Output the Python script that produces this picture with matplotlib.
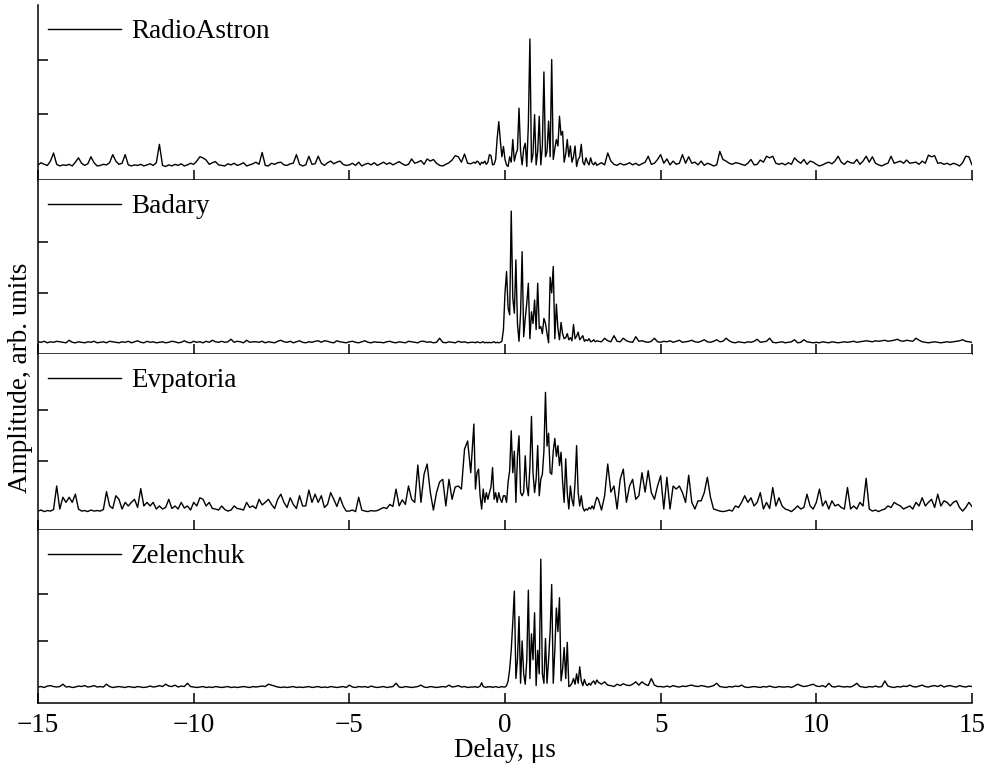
import numpy as np
import matplotlib
matplotlib.use("Agg")
import matplotlib.pyplot as plt

# Amplitudes in hundredths of one y-tick interval.
# Each trace is split in three pieces: -15..-1.1 us (0.1 us step),
# -1..2.95 us (0.05 us step, the burst) and 3..15 us (0.1 us step).

stations = ["RadioAstron", "Badary", "Evpatoria", "Zelenchuk"]

radioastron_left = [
    5, 9, 6, 4, 12, 27, 6, 3, 5, 4,
    6, 3, 10, 18, 8, 4, 7, 20, 9, 3,
    4, 6, 5, 9, 24, 12, 6, 8, 24, 5,
    3, 5, 4, 6, 3, 5, 7, 4, 9, 43,
    4, 2, 5, 3, 6, 4, 7, 3, 5, 8,
    6, 12, 20, 18, 14, 6, 9, 11, 5, 4,
    3, 7, 5, 8, 4, 6, 9, 3, 5, 7,
    10, 6, 28, 4, 3, 8, 6, 9, 10, 5,
    4, 7, 8, 24, 6, 3, 5, 21, 6, 7,
    21, 8, 4, 9, 12, 7, 10, 12, 6, 4,
    5, 8, 4, 10, 3, 6, 8, 5, 9, 4,
    7, 10, 6, 9, 5, 8, 11, 7, 4, 6,
    16, 8, 10, 13, 6, 16, 12, 15, 8, 4,
    3, 6, 9, 14, 22, 20, 10, 25, 8, 7,
]
radioastron_burst = [
    10, 8, 12, 10, 5, 10, 8, 12, 6, 10,
    24, 22, 5, 6, 15, 55, 85, 50, 20, 39,
    15, 5, 2, 20, 10, 52, 12, 25, 33, 110,
    30, 5, 35, 45, 2, 80, 238, 10, 25, 98,
    5, 30, 95, 5, 40, 177, 20, 30, 86, 20,
    200, 15, 35, 52, 40, 95, 60, 67, 10, 25,
    52, 20, 40, 10, 20, 40, 2, 15, 20, 43,
    10, 5, 18, 10, 5, 18, 8, 5, 10, 4,
]
radioastron_right = [
    6, 9, 5, 27, 12, 6, 4, 8, 5, 6,
    9, 5, 8, 4, 7, 10, 21, 6, 8, 15,
    24, 8, 16, 5, 12, 6, 8, 24, 8, 20,
    8, 10, 5, 12, 4, 8, 6, 3, 5, 30,
    15, 12, 8, 6, 9, 8, 6, 4, 8, 15,
    5, 6, 14, 10, 21, 18, 21, 8, 6, 8,
    5, 9, 6, 18, 12, 8, 15, 6, 12, 10,
    6, 3, 5, 8, 10, 7, 12, 21, 10, 6,
    12, 9, 8, 15, 6, 12, 21, 10, 20, 8,
    5, 3, 6, 8, 21, 8, 10, 12, 8, 14,
    8, 9, 10, 6, 12, 8, 23, 20, 22, 8,
    9, 6, 8, 5, 8, 6, 3, 9, 21, 20,
    5,
]

badary_left = [
    4, 3, 5, 2, 4, 3, 5, 4, 3, 2,
    7, 3, 2, 4, 3, 2, 4, 3, 5, 2,
    3, 4, 2, 5, 4, 3, 2, 4, 3, 5,
    2, 4, 6, 3, 2, 5, 3, 4, 2, 3,
    4, 2, 3, 5, 4, 2, 3, 6, 3, 2,
    5, 3, 4, 2, 5, 3, 7, 4, 3, 5,
    3, 4, 9, 3, 5, 4, 2, 7, 3, 4,
    4, 3, 5, 2, 4, 3, 2, 5, 7, 4,
    3, 5, 2, 4, 6, 3, 2, 4, 3, 5,
    6, 3, 6, 5, 3, 2, 6, 4, 3, 2,
    4, 5, 3, 2, 4, 6, 3, 2, 4, 3,
    3, 2, 4, 5, 3, 2, 4, 3, 2, 5,
    4, 3, 2, 5, 5, 3, 4, 2, 3, 11,
    3, 2, 4, 3, 2, 5, 3, 4, 2, 3,
]
badary_burst = [
    3, 2, 4, 3, 2, 3, 4, 2, 3, 2,
    3, 2, 3, 4, 2, 3, 2, 3, 5, 28,
    100, 142, 70, 57, 261, 90, 60, 165, 40, 5,
    60, 181, 14, 50, 80, 119, 10, 63, 40, 86,
    28, 119, 30, 34, 20, 50, 40, 20, 2, 131,
    100, 152, 10, 78, 30, 8, 42, 20, 10, 12,
    20, 8, 12, 6, 38, 10, 15, 23, 8, 12,
    16, 5, 8, 6, 10, 4, 5, 8, 4, 6,
]
badary_right = [
    5, 4, 11, 6, 4, 16, 5, 4, 11, 6,
    4, 3, 14, 5, 6, 4, 3, 5, 11, 4,
    3, 5, 4, 6, 3, 5, 7, 3, 4, 5,
    7, 4, 3, 5, 8, 4, 3, 5, 8, 4,
    5, 11, 6, 3, 2, 4, 3, 2, 4, 3,
    5, 9, 3, 4, 5, 11, 3, 2, 3, 4,
    2, 3, 4, 8, 2, 3, 8, 4, 3, 2,
    3, 2, 4, 3, 2, 4, 3, 2, 3, 4,
    3, 4, 5, 3, 4, 5, 6, 5, 4, 6,
    5, 6, 7, 5, 6, 7, 9, 6, 5, 7,
    6, 5, 11, 7, 4, 3, 2, 3, 4, 3,
    2, 3, 4, 3, 4, 5, 6, 8, 5, 4,
    3,
]

evpatoria_left = [
    3, 5, 2, 4, 3, 6, 52, 7, 30, 20,
    30, 20, 36, 7, 3, 4, 2, 5, 3, 4,
    3, 6, 41, 13, 8, 33, 26, 7, 20, 13,
    20, 26, 10, 47, 13, 20, 13, 20, 7, 13,
    7, 10, 26, 8, 13, 7, 20, 9, 13, 5,
    20, 13, 29, 26, 13, 20, 8, 7, 5, 13,
    6, 3, 5, 13, 8, 7, 5, 20, 10, 13,
    8, 26, 15, 20, 26, 16, 8, 26, 36, 20,
    10, 29, 16, 8, 33, 13, 13, 44, 20, 36,
    20, 33, 10, 16, 39, 26, 12, 30, 13, 3,
    3, 5, 2, 30, 5, 3, 2, 4, 3, 4,
    7, 10, 8, 16, 12, 46, 13, 25, 16, 52,
    26, 20, 93, 20, 75, 95, 40, 5, 39, 60,
    65, 13, 65, 26, 50, 52, 46, 124, 140, 78,
]
evpatoria_burst = [
    173, 46, 78, 85, 33, 7, 46, 20, 39, 26,
    39, 50, 88, 26, 39, 20, 39, 26, 20, 33,
    33, 20, 60, 82, 160, 78, 120, 20, 110, 150,
    39, 33, 40, 111, 52, 33, 90, 188, 78, 39,
    65, 131, 33, 65, 75, 120, 235, 130, 155, 78,
    75, 120, 145, 110, 131, 92, 118, 60, 20, 105,
    39, 7, 52, 26, 13, 59, 131, 39, 13, 33,
    10, 3, 7, 5, 10, 7, 13, 7, 20, 30,
]
evpatoria_right = [
    26, 5, 33, 95, 40, 52, 7, 65, 85, 20,
    52, 65, 26, 33, 78, 40, 82, 39, 26, 52,
    72, 7, 69, 7, 52, 46, 52, 39, 20, 73,
    20, 7, 23, 23, 39, 69, 30, 7, 5, 3,
    2, 3, 5, 3, 13, 10, 20, 33, 20, 29,
    13, 20, 39, 7, 20, 8, 49, 13, 29, 13,
    7, 5, 2, 7, 13, 7, 10, 36, 13, 7,
    20, 46, 13, 23, 7, 23, 13, 16, 10, 7,
    49, 7, 13, 7, 20, 13, 67, 7, 3, 5,
    2, 5, 7, 13, 10, 20, 16, 13, 7, 10,
    13, 7, 20, 13, 29, 13, 20, 26, 10, 36,
    13, 23, 20, 13, 20, 23, 10, 3, 10, 20,
    12,
]

zelenchuk_left = [
    2, 3, 1, 4, 5, 3, 2, 3, 8, 2,
    3, 1, 2, 4, 3, 5, 2, 3, 5, 2,
    3, 2, 8, 3, 1, 2, 3, 2, 1, 3,
    2, 1, 3, 2, 1, 2, 4, 2, 3, 5,
    3, 8, 4, 3, 6, 2, 4, 3, 10, 3,
    2, 1, 2, 3, 1, 2, 1, 3, 2, 1,
    2, 3, 1, 2, 1, 2, 3, 2, 1, 3,
    2, 3, 4, 3, 8, 6, 4, 2, 1, 2,
    1, 2, 3, 1, 2, 1, 2, 3, 1, 2,
    3, 1, 2, 1, 3, 2, 1, 2, 3, 1,
    6, 2, 1, 3, 2, 3, 1, 4, 2, 1,
    2, 3, 1, 2, 3, 10, 2, 1, 3, 2,
    1, 2, 3, 6, 2, 1, 3, 2, 1, 2,
    3, 2, 6, 2, 3, 5, 2, 3, 1, 2,
]
zelenchuk_burst = [
    2, 3, 1, 2, 4, 11, 3, 2, 1, 3,
    2, 3, 1, 2, 3, 2, 1, 2, 3, 2,
    2, 5, 15, 40, 80, 140, 206, 20, 60, 152,
    10, 100, 30, 8, 60, 208, 20, 115, 60, 160,
    5, 80, 30, 274, 30, 10, 105, 10, 60, 120,
    220, 10, 80, 170, 120, 192, 15, 40, 86, 20,
    97, 3, 5, 10, 20, 8, 30, 10, 45, 15,
    5, 18, 8, 5, 10, 6, 12, 15, 8, 17,
]
zelenchuk_right = [
    12, 8, 13, 6, 5, 3, 8, 5, 9, 6,
    5, 8, 13, 6, 13, 8, 5, 20, 6, 3,
    3, 2, 4, 2, 5, 3, 2, 4, 3, 5,
    6, 4, 3, 5, 4, 2, 3, 5, 10, 3,
    2, 1, 3, 2, 4, 3, 6, 2, 1, 2,
    3, 2, 1, 3, 2, 4, 2, 1, 3, 2,
    2, 3, 1, 4, 8, 5, 3, 4, 6, 8,
    4, 3, 5, 2, 10, 3, 2, 4, 3, 2,
    3, 2, 5, 10, 3, 2, 1, 3, 2, 4,
    2, 3, 15, 4, 2, 1, 3, 2, 4, 3,
    6, 3, 2, 4, 6, 3, 2, 4, 5, 3,
    6, 2, 4, 5, 3, 2, 5, 3, 2, 4,
    3,
]

traces = [
    (radioastron_left, radioastron_burst, radioastron_right),
    (badary_left, badary_burst, badary_right),
    (evpatoria_left, evpatoria_burst, evpatoria_right),
    (zelenchuk_left, zelenchuk_burst, zelenchuk_right),
]

x_ticks = [-15, -10, -5, 0, 5, 10, 15]


def build_trace(left, burst, right):
    delay = np.concatenate([
        -15.0 + 0.1 * np.arange(len(left)),
        -1.0 + 0.05 * np.arange(len(burst)),
        3.0 + 0.1 * np.arange(len(right)),
    ])
    amp = np.array(left + burst + right, dtype=float) / 100.0
    return delay, amp


plt.rcParams["font.family"] = ["Liberation Serif", "DejaVu Serif"]
FS = 19.5

W, H = 989, 768
fig = plt.figure(figsize=(W / 100, H / 100), dpi=100)

# panel extents in pixels from the top, and y ranges (tick spacing = 1)
panel_px = [(5, 180), (180, 354), (354, 530), (530, 703)]
y_ranges = [(-0.23, 3.01), (-0.20, 3.22), (-0.34, 3.10), (-0.32, 3.36)]

for i, name in enumerate(stations):
    top, bottom = panel_px[i]
    h = bottom - top
    ax = fig.add_axes([38 / W, 1 - bottom / H, 934 / W, h / H])
    delay, amp = build_trace(*traces[i])
    ax.plot(delay, amp, color="black", lw=1.0, label=name)

    ax.set_xlim(-15, 15)
    ax.set_ylim(*y_ranges[i])
    ax.set_xticks(x_ticks)
    ax.set_xticklabels(["\u2212" + str(-t) if t < 0 else str(t) for t in x_ticks])
    ax.set_yticks([1, 2])
    ax.spines["top"].set_visible(False)
    ax.spines["right"].set_visible(False)
    for s in ("left", "bottom"):
        ax.spines[s].set_linewidth(1.1)
    ax.tick_params(axis="x", direction="in", length=7, width=1.1,
                   labelsize=FS, pad=7, labelbottom=(i == 3))
    ax.tick_params(axis="y", direction="in", length=7, width=1.1,
                   labelleft=False)

    ax.legend(loc="upper left", bbox_to_anchor=(10 / 934, 1 - 14 / h),
              frameon=False, fontsize=FS, handlelength=2.7,
              handletextpad=0.37, borderpad=0, borderaxespad=0)

    if i == 3:
        ax.set_xlabel("Delay, \u03bcs", fontsize=FS, labelpad=0)

fig.text(21 / W, 1 - 378 / H, "Amplitude, arb. units", rotation=90,
         ha="center", va="center", fontsize=FS)

fig.savefig("out.png", dpi=100)
